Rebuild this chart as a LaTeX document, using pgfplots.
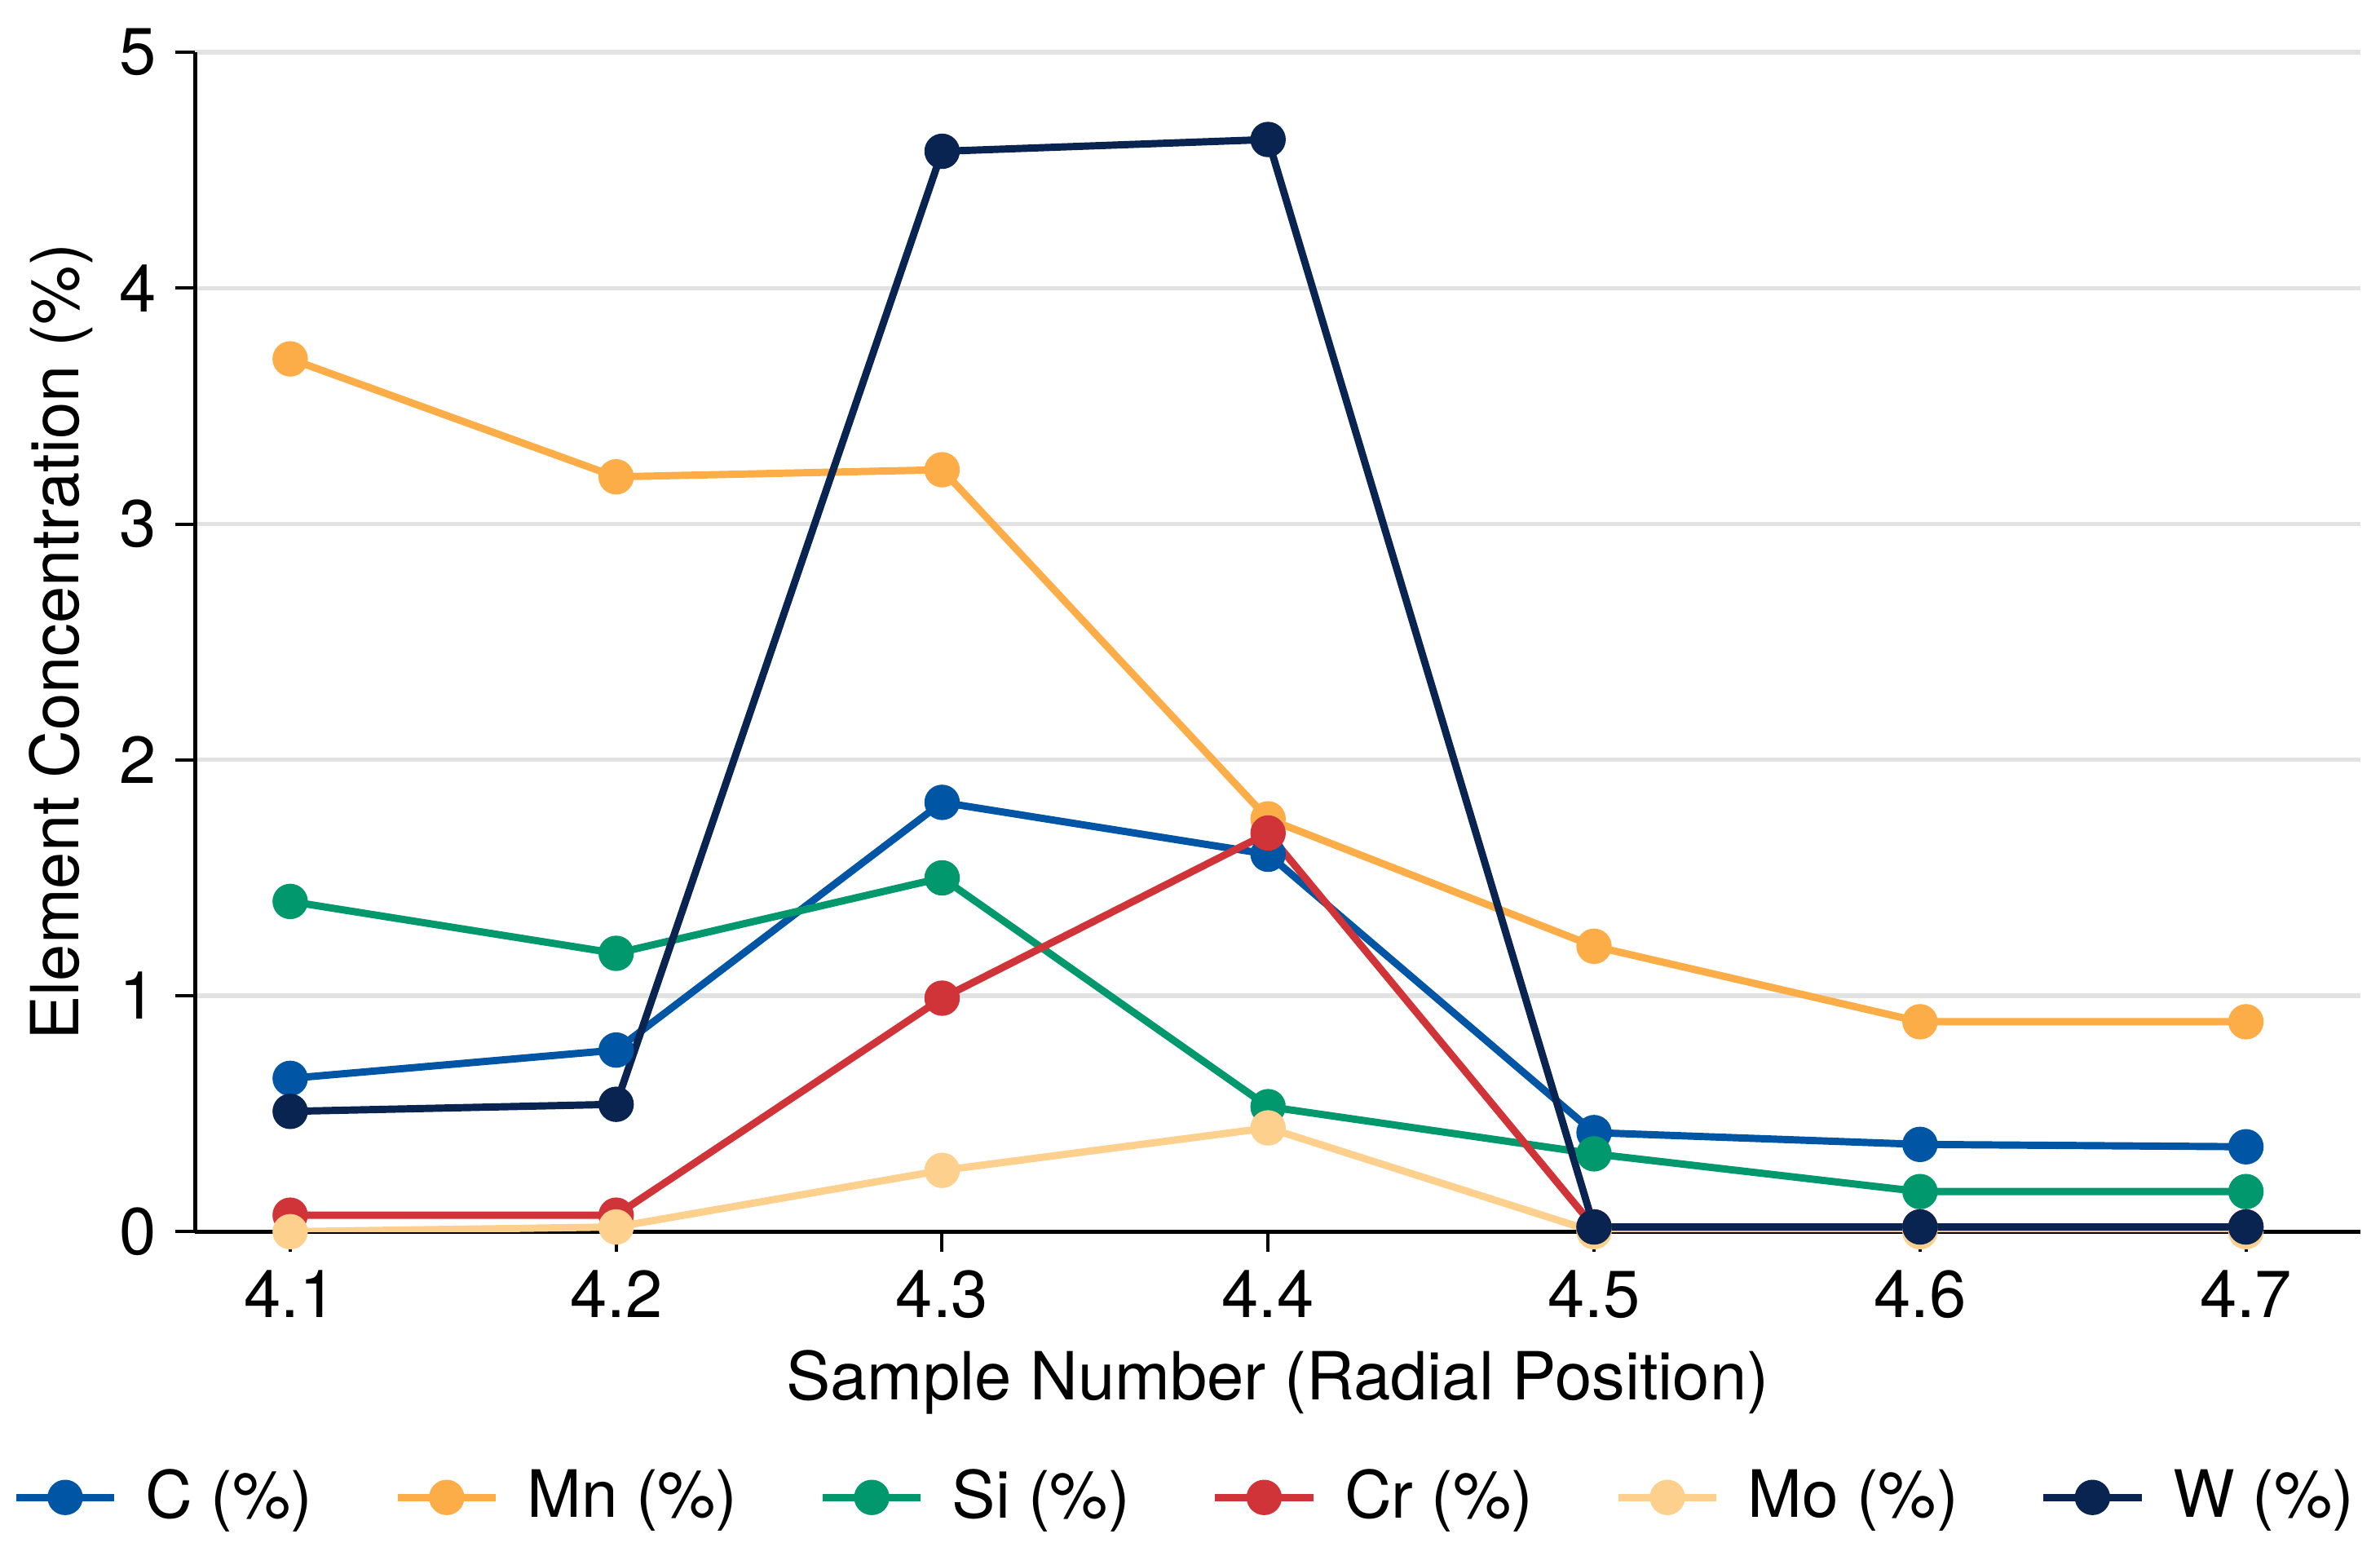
\documentclass[border=0pt]{standalone}
\usepackage{pgfplots}
\pgfplotsset{compat=1.18}
\usepackage{fontspec}
\setmainfont{TeX Gyre Heros}

\definecolor{cC}{RGB}{0,85,165}
\definecolor{cMn}{RGB}{252,173,72}
\definecolor{cSi}{RGB}{0,152,108}
\definecolor{cCr}{RGB}{208,52,56}
\definecolor{cMo}{RGB}{254,208,142}
\definecolor{cW}{RGB}{10,36,82}
\definecolor{gridgray}{RGB}{226,226,226}

\begin{document}
\begin{tikzpicture}
\useasboundingbox (0,0) rectangle (15.5,10.07);
\begin{axis}[
  at={(1.27cm,2.05cm)}, anchor=south west,
  scale only axis,
  width=14.1cm, height=7.68cm,
  xmin=4.0708, xmax=4.735,
  ymin=0, ymax=5,
  axis lines=left,
  axis line style={-, line width=0.8pt},
  xtick={4.1,4.2,4.3,4.4,4.5,4.6,4.7},
  ytick={0,1,2,3,4,5},
  xticklabel style={/pgf/number format/fixed, /pgf/number format/precision=1, /pgf/number format/fixed zerofill},
  /pgf/number format/assume math mode=true,
  tick align=outside,
  major tick length=0.13cm,
  tick style={black, line width=0.6pt},
  ymajorgrids,
  grid style={gridgray, line width=0.8pt},
  font=\fontsize{12.3}{15}\selectfont,
  tick label style={font=\fontsize{12.3}{15}\selectfont},
  xlabel={Sample Number (Radial Position)},
  ylabel={Element Concentration (\%)},
  xlabel style={yshift=1pt},
  ylabel style={yshift=-2pt},
  every axis plot/.append style={line width=1.35pt, mark=*, mark size=2.6pt},
  legend columns=6,
  legend style={at={(0.459,-0.2253)}, anchor=center, draw=none,
    font=\fontsize{12.1}{15}\selectfont,
    /tikz/every odd column/.append style={column sep=0.11cm},
    /tikz/every even column/.append style={column sep=0.46cm}},
  legend image code/.code={
    \draw[#1, mark repeat=2, mark phase=2] plot coordinates {(0cm,0cm) (0.32cm,0cm) (0.64cm,0cm)};
  },
]
\addplot[color=cC] coordinates {(4.1,0.65) (4.2,0.77) (4.3,1.82) (4.4,1.60) (4.5,0.42) (4.6,0.37) (4.7,0.36)};
\addlegendentry{C (\%)}
\addplot[color=cMn] coordinates {(4.1,3.70) (4.2,3.20) (4.3,3.23) (4.4,1.75) (4.5,1.21) (4.6,0.89) (4.7,0.89)};
\addlegendentry{Mn (\%)}
\addplot[color=cSi] coordinates {(4.1,1.40) (4.2,1.18) (4.3,1.50) (4.4,0.53) (4.5,0.33) (4.6,0.17) (4.7,0.17)};
\addlegendentry{Si (\%)}
\addplot[color=cCr] coordinates {(4.1,0.07) (4.2,0.07) (4.3,0.99) (4.4,1.69) (4.5,0.02) (4.6,0.02) (4.7,0.02)};
\addlegendentry{Cr (\%)}
\addplot[color=cMo] coordinates {(4.1,0.00) (4.2,0.02) (4.3,0.26) (4.4,0.44) (4.5,0.00) (4.6,0.00) (4.7,0.00)};
\addlegendentry{Mo (\%)}
\addplot[color=cW] coordinates {(4.1,0.51) (4.2,0.54) (4.3,4.58) (4.4,4.63) (4.5,0.02) (4.6,0.02) (4.7,0.02)};
\addlegendentry{W (\%)}
\end{axis}
\end{tikzpicture}
\end{document}
